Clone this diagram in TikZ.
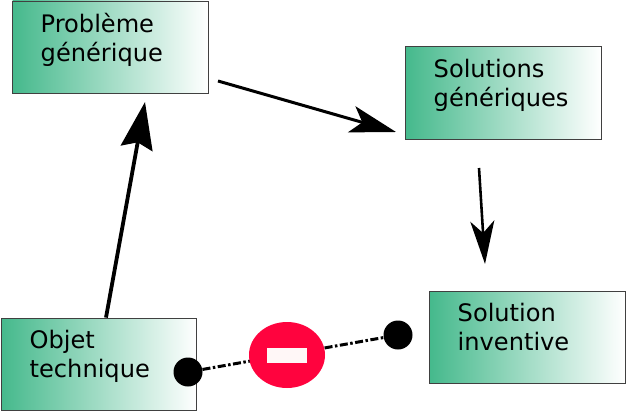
\documentclass[tikz,border=0pt]{standalone}
\usepackage{fontspec}
\setmainfont{DejaVu Sans}
\usetikzlibrary{arrows.meta,shapes.geometric}
\definecolor{boxgreen}{HTML}{45B98C}
\definecolor{noentry}{HTML}{FF033E}
\definecolor{barwhite}{HTML}{FFF7F7}
\tikzset{
  x=1pt,y=-1pt,
  gradbox/.style={rectangle,draw=black!75,line width=0.8pt,left color=boxgreen,right color=white,
    minimum width=195.5pt,minimum height=92.5pt,inner sep=0pt},
  boxtext/.style={anchor=north west,align=left,inner sep=0pt,font=\fontsize{24.1}{29}\selectfont,text width=170pt},
  dot/.style={circle,fill=black,minimum size=29pt,inner sep=0pt},
  heavy/.style={line width=3.8pt,-{Stealth[length=47pt,width=32pt,inset=6pt]}},
  medium/.style={line width=3pt,-{Stealth[length=46pt,width=27pt,inset=11pt]}},
  light/.style={line width=2.6pt,-{Stealth[length=43pt,width=24pt,inset=12pt]}},
  link/.style={line width=3pt,dash pattern=on 8pt off 2.5pt on 2.5pt off 2.5pt},
}
\begin{document}
\begin{tikzpicture}
\useasboundingbox (0,0) rectangle (626,412);
\node[gradbox] (pb) at (110.25,47.25) {};
\node[gradbox] (sg) at (503.25,93) {};
\node[gradbox] (si) at (527.25,337.25) {};
\node[gradbox] (ot) at (98.75,364.25) {};
\node[boxtext] (pbt) at (40.5,13) {Problème\\générique};
\node[boxtext] (sgt) at (433.5,59) {Solutions\\génériques};
\node[boxtext] (sit) at (457.5,303) {Solution\\inventive};
\node[boxtext] (ott) at (29.5,330) {Objet\\technique};
\coordinate (ptip) at (145,102);
\coordinate (rstart) at (218,81);
\coordinate (rtip) at (396,132);
\coordinate (dstart) at (479,168);
\coordinate (dtip) at (485,264);
\node[dot] (dl) at (188,372) {};
\node[dot] (dr) at (398,335) {};
\draw[heavy] ([xshift=7.25pt]ot.north) -- (ptip);
\draw[medium] (rstart) -- (rtip);
\draw[light] (dstart) -- (dtip);
\draw[link] (dl) -- (dr);
\node[ellipse,fill=noentry,minimum width=76pt,minimum height=66pt,inner sep=0pt] (stop) at (287,355) {};
\node[rectangle,fill=barwhite,minimum width=40pt,minimum height=15pt,inner sep=0pt] (bar) at (287,355.5) {};
\end{tikzpicture}
\end{document}
